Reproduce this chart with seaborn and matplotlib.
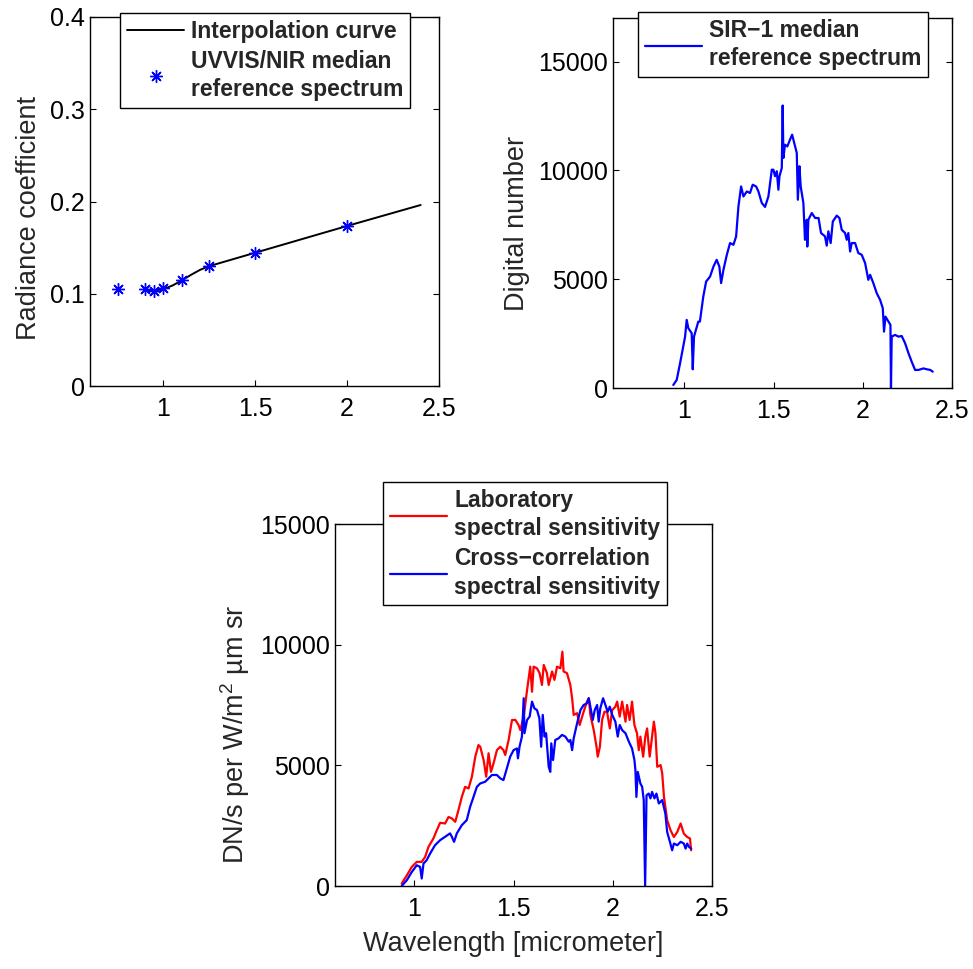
import matplotlib
matplotlib.use("Agg")
import matplotlib.pyplot as plt
import pandas as pd
import seaborn as sns

# ---------------- UVVIS/NIR reference (radiance coefficient) ----------------
uv_wavelength = [0.75, 0.90, 0.95, 1.00, 1.10, 1.25, 1.50, 2.00]
uv_radiance = [0.105, 0.105, 0.1035, 0.106, 0.115, 0.130, 0.144, 0.1735]

interp_wavelength = [0.92, 0.95, 1.00, 1.05, 1.10, 1.15, 1.20, 1.25, 1.50, 2.00, 2.40]
interp_radiance = [0.104, 0.1035, 0.105, 0.109, 0.1145, 0.1205, 0.126, 0.130, 0.1445, 0.1735, 0.1962]

# ---------------- SIR-1 median reference spectrum (digital number) ----------------
sir_wavelength = [
    0.938, 0.957, 0.976, 1.004, 1.013, 1.022, 1.041, 1.047, 1.054, 1.078,
    1.087, 1.106, 1.122, 1.144, 1.163, 1.181, 1.196, 1.206, 1.219, 1.238,
    1.256, 1.275, 1.290, 1.303, 1.318, 1.331, 1.350, 1.368, 1.383, 1.402,
    1.415, 1.434, 1.452, 1.471, 1.490, 1.499, 1.508, 1.518, 1.527, 1.533,
    1.546, 1.551, 1.555, 1.564, 1.577, 1.592, 1.604, 1.611, 1.630, 1.636,
    1.645, 1.652, 1.667, 1.676, 1.686, 1.689, 1.695, 1.714, 1.733, 1.752,
    1.766, 1.788, 1.798, 1.807, 1.820, 1.832, 1.854, 1.869, 1.882, 1.901,
    1.910, 1.919, 1.929, 1.938, 1.957, 1.975, 1.994, 2.013, 2.031, 2.041,
    2.059, 2.078, 2.097, 2.112, 2.119, 2.127, 2.144, 2.155, 2.158, 2.162,
    2.181, 2.200, 2.218, 2.237, 2.256, 2.274, 2.293, 2.312, 2.340, 2.359,
    2.378, 2.392,
]
sir_dn = [
    140, 370, 1140, 2360, 3130, 2750, 2520, 860, 2360, 3050,
    3050, 4200, 4890, 5120, 5580, 5890, 5580, 4820, 5430, 6120,
    6660, 6580, 6960, 8340, 9260, 8800, 9030, 8960, 9340, 9260,
    9030, 8500, 8320, 8800, 10030, 10030, 9730, 9960, 9110, 9730,
    10110, 12980, 10570, 11180, 11100, 11410, 11640, 11410, 10800, 8650,
    10190, 9260, 8500, 6810, 7730, 6500, 7730, 8040, 7810, 7810,
    7120, 6970, 6540, 7200, 6660, 7650, 7920, 7810, 7270, 7120,
    6810, 7120, 6270, 6660, 6660, 6200, 6120, 5740, 4970, 5200,
    4820, 4360, 4050, 3670, 2590, 3280, 3050, 2900, 0, 2360,
    2440, 2360, 2390, 2060, 1600, 1210, 830, 830, 900, 860,
    830, 750,
]

# ---------------- Spectral sensitivities (DN/s per radiance unit) ----------------
lab_wavelength = [
    0.936, 0.962, 0.987, 1.012, 1.037, 1.054, 1.071, 1.096, 1.113, 1.130,
    1.155, 1.172, 1.189, 1.206, 1.222, 1.239, 1.256, 1.273, 1.290, 1.307,
    1.323, 1.332, 1.349, 1.362, 1.374, 1.386, 1.399, 1.416, 1.433, 1.449,
    1.458, 1.475, 1.492, 1.509, 1.525, 1.534, 1.551, 1.568, 1.584, 1.593,
    1.601, 1.618, 1.631, 1.643, 1.652, 1.668, 1.677, 1.694, 1.706, 1.719,
    1.736, 1.746, 1.752, 1.769, 1.786, 1.795, 1.803, 1.820, 1.833, 1.853,
    1.870, 1.879, 1.887, 1.904, 1.918, 1.924, 1.935, 1.946, 1.958, 1.971,
    1.985, 1.997, 2.013, 2.022, 2.035, 2.047, 2.064, 2.072, 2.085, 2.097,
    2.109, 2.122, 2.131, 2.139, 2.153, 2.164, 2.173, 2.186, 2.198, 2.207,
    2.215, 2.224, 2.241, 2.249, 2.258, 2.274, 2.291, 2.308, 2.325, 2.342,
    2.358, 2.375, 2.389, 2.395,
]
lab_sens = [
    100, 440, 790, 1000, 1000, 1200, 1620, 1970, 2310, 2620,
    2590, 2860, 2800, 2660, 3140, 3690, 4110, 4040, 4530, 5360,
    5840, 5770, 5220, 4530, 5500, 4730, 5080, 5630, 5770, 5630,
    5430, 6050, 6880, 6880, 6670, 6460, 7020, 8120, 9090, 8050,
    9090, 9020, 8820, 8330, 9160, 8820, 8330, 8890, 8540, 9090,
    9020, 9710, 8890, 8820, 8330, 7780, 7090, 7160, 6670, 7220,
    7640, 7780, 7090, 6460, 5770, 5360, 5770, 6880, 7220, 7220,
    6530, 7290, 7430, 7640, 7020, 7640, 6810, 7500, 6880, 7640,
    6670, 6330, 5630, 6190, 5360, 6190, 6530, 5360, 6190, 6810,
    6330, 4940, 5010, 4670, 3690, 2730, 2310, 2030, 2240, 2590,
    2170, 2030, 1970, 1480,
]

xc_wavelength = [
    0.936, 0.962, 0.987, 1.012, 1.029, 1.037, 1.046, 1.062, 1.079, 1.104,
    1.130, 1.155, 1.180, 1.189, 1.200, 1.214, 1.239, 1.264, 1.281, 1.298,
    1.315, 1.332, 1.357, 1.374, 1.391, 1.416, 1.433, 1.449, 1.466, 1.483,
    1.500, 1.517, 1.522, 1.530, 1.542, 1.551, 1.555, 1.568, 1.581, 1.593,
    1.605, 1.618, 1.630, 1.639, 1.647, 1.656, 1.664, 1.677, 1.685, 1.690,
    1.699, 1.710, 1.727, 1.744, 1.761, 1.778, 1.786, 1.795, 1.803, 1.820,
    1.837, 1.853, 1.870, 1.879, 1.887, 1.899, 1.909, 1.921, 1.929, 1.937,
    1.951, 1.963, 1.974, 1.985, 1.997, 2.013, 2.025, 2.035, 2.047, 2.064,
    2.081, 2.097, 2.109, 2.114, 2.119, 2.126, 2.139, 2.148, 2.156, 2.163,
    2.170, 2.181, 2.190, 2.198, 2.210, 2.220, 2.232, 2.249, 2.265, 2.274,
    2.288, 2.299, 2.308, 2.325, 2.342, 2.358, 2.367, 2.375, 2.384, 2.395,
]
xc_sens = [
    0, 240, 580, 860, 790, 310, 930, 1070, 1340, 1690,
    1900, 2040, 2180, 2040, 1830, 2180, 2520, 2730, 3280, 3690,
    4110, 4250, 4320, 4460, 4600, 4600, 4460, 4390, 4870, 5360,
    5630, 5700, 5290, 5770, 6190, 7780, 6330, 6880, 7020, 7640,
    7360, 7290, 6950, 5770, 7090, 6190, 6330, 4940, 4730, 5910,
    5220, 6050, 6120, 6260, 6190, 5980, 6050, 5630, 6120, 6740,
    7290, 7500, 7570, 7780, 7430, 6880, 7290, 7500, 6810, 7360,
    7780, 7500, 7220, 7430, 7090, 6810, 6190, 6670, 6460, 6330,
    5980, 5700, 5220, 4800, 3690, 4730, 4250, 4110, 3560, 0,
    3760, 3830, 3630, 3900, 3630, 3830, 3420, 3560, 3000, 2240,
    1830, 1480, 1760, 1690, 1830, 1760, 1550, 1760, 1620, 1550,
]

x_ticks = [1, 1.5, 2, 2.5]
x_tick_labels = ["1", "1.5", "2", "2.5"]
rad_ticks = [0, 0.1, 0.2, 0.3, 0.4]
rad_tick_labels = ["0", "0.1", "0.2", "0.3", "0.4"]
dn_ticks = [0, 5000, 10000, 15000]
dn_tick_labels = ["0", "5000", "10000", "15000"]

# ---------------- styling ----------------
sns.set_style("ticks")
plt.rcParams["font.family"] = ["Liberation Sans", "DejaVu Sans"]
plt.rcParams["mathtext.fontset"] = "custom"
plt.rcParams["mathtext.rm"] = "Liberation Sans"
plt.rcParams["mathtext.it"] = "Liberation Sans:italic"
plt.rcParams["mathtext.bf"] = "Liberation Sans:bold"

W, H = 973, 969
fig = plt.figure(figsize=(W / 100, H / 100), dpi=100)
fig.patch.set_facecolor("white")


def box(left, top, right, bottom):
    return [left / W, 1 - bottom / H, (right - left) / W, (bottom - top) / H]


ax1 = fig.add_axes(box(90, 17, 439, 386))
ax2 = fig.add_axes(box(613, 18, 952, 388))
ax3 = fig.add_axes(box(335, 524, 712, 886))

TICK_SIZE = 18
LABEL_SIZE = 19.5
LEGEND_PROP = {"weight": "bold", "size": 16.5}
LW = 1.6


def style_axes(ax):
    ax.set_facecolor("white")
    for sp in ax.spines.values():
        sp.set_visible(True)
        sp.set_linewidth(1.0)
        sp.set_color("black")
    ax.tick_params(direction="in", top=True, right=True, length=4, width=0.8,
                   labelsize=TICK_SIZE, colors="black")
    ax.tick_params(axis="x", pad=8)
    ax.tick_params(axis="y", pad=3.5)
    ax.set_xlim(0.6, 2.5)
    ax.set_xticks(x_ticks)
    ax.set_xticklabels(x_tick_labels)


def add_legend(ax, left, top):
    leg = ax.legend(loc="upper left", bbox_to_anchor=(left / W, 1 - top / H),
                    bbox_transform=fig.transFigure, borderaxespad=0,
                    frameon=True, fancybox=False, shadow=False, framealpha=1,
                    edgecolor="black", prop=LEGEND_PROP, handlelength=2.5,
                    handletextpad=0.3, borderpad=0.3, labelspacing=0.3)
    leg.get_frame().set_linewidth(1.0)
    for t in leg.get_texts():
        t.set_linespacing(1.3)
    return leg


# ---- panel 1: radiance coefficient ----
interp_df = pd.DataFrame({"wl": interp_wavelength, "rad": interp_radiance})
uv_df = pd.DataFrame({"wl": uv_wavelength, "rad": uv_radiance})
sns.lineplot(data=interp_df, x="wl", y="rad", ax=ax1, color="black", lw=1.4,
             estimator=None, sort=False, label="Interpolation curve")
sns.lineplot(data=uv_df, x="wl", y="rad", ax=ax1, color="blue", linestyle="none",
             marker=(8, 2, 0), markersize=9, markeredgewidth=1.0,
             markeredgecolor="blue", estimator=None, sort=False,
             label="UVVIS/NIR median\nreference spectrum")
style_axes(ax1)
ax1.set_ylim(0, 0.4)
ax1.set_yticks(rad_ticks)
ax1.set_yticklabels(rad_tick_labels)
ax1.set_xlabel("")
ax1.set_ylabel("Radiance coefficient", fontsize=LABEL_SIZE, labelpad=6)
ax1.yaxis.label.set_y(0.455)
add_legend(ax1, 120, 13)

# ---- panel 2: SIR-1 spectrum ----
sir_df = pd.DataFrame({"wl": sir_wavelength, "dn": sir_dn})
sns.lineplot(data=sir_df, x="wl", y="dn", ax=ax2, color="blue", lw=LW,
             estimator=None, sort=False, label="SIR\u22121 median\nreference spectrum")
style_axes(ax2)
ax2.set_ylim(0, 17000)
ax2.set_yticks(dn_ticks)
ax2.set_yticklabels(dn_tick_labels)
ax2.set_xlabel("")
ax2.set_ylabel("Digital number", fontsize=LABEL_SIZE, labelpad=6)
ax2.yaxis.label.set_y(0.445)
add_legend(ax2, 638, 12)

# ---- panel 3: spectral sensitivities ----
lab_df = pd.DataFrame({"wl": lab_wavelength, "s": lab_sens})
xc_df = pd.DataFrame({"wl": xc_wavelength, "s": xc_sens})
sns.lineplot(data=lab_df, x="wl", y="s", ax=ax3, color="red", lw=LW,
             estimator=None, sort=False, label="Laboratory\nspectral sensitivity")
sns.lineplot(data=xc_df, x="wl", y="s", ax=ax3, color="blue", lw=LW,
             estimator=None, sort=False,
             label="Cross\u2212correlation\nspectral sensitivity")
style_axes(ax3)
ax3.set_ylim(0, 15000)
ax3.set_yticks(dn_ticks)
ax3.set_yticklabels(dn_tick_labels)
ax3.set_xlabel("Wavelength [micrometer]", fontsize=LABEL_SIZE, labelpad=7)
ax3.xaxis.label.set_x(0.472)
ax3.set_ylabel("DN/s per W/m$^2$ \u00b5m sr", fontsize=LABEL_SIZE, labelpad=6)
ax3.yaxis.label.set_y(0.42)
add_legend(ax3, 383, 482)

fig.savefig("out.png", dpi=100, facecolor="white")
